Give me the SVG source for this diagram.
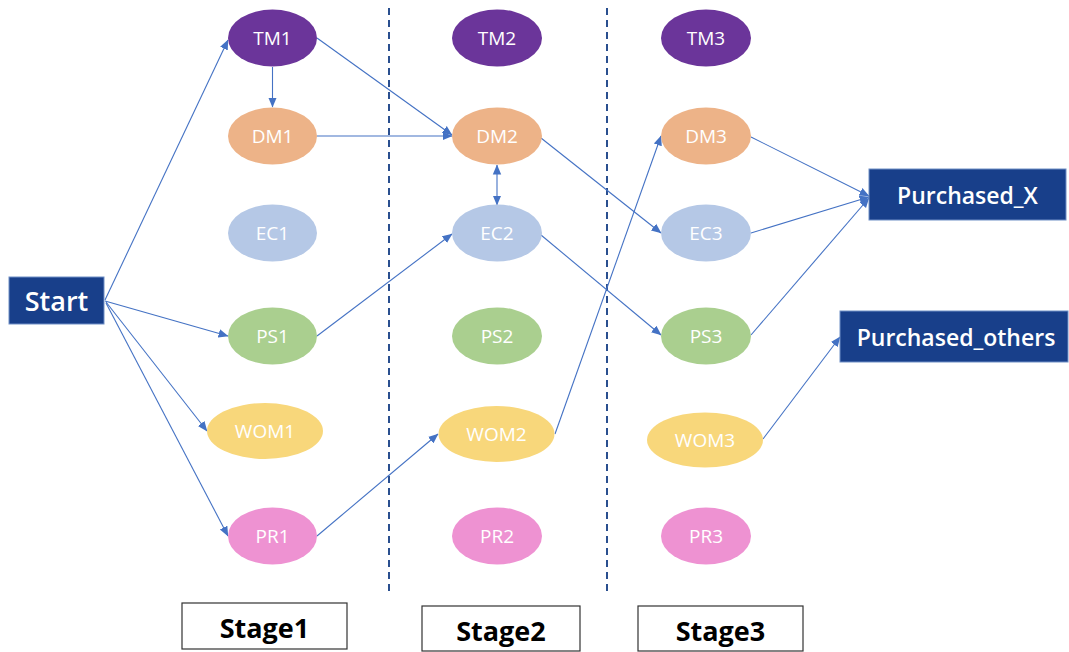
<svg xmlns="http://www.w3.org/2000/svg" width="1069" height="652" viewBox="0 0 1069 652">
  <style>
    .node text { font-family: "Open Sans", "Noto Sans", "Liberation Sans", sans-serif; fill: #ffffff; text-anchor: middle; dominant-baseline: central; }
    .ell text { font-size: 19px; font-weight: 500; }
    .tm ellipse { fill: #6B359A; }
    .dm ellipse { fill: #EDB388; }
    .ec ellipse { fill: #B5C8E6; }
    .ps ellipse { fill: #AACF8F; }
    .wom ellipse { fill: #F8D77B; }
    .pr ellipse { fill: #EE92D2; }
    .box rect { fill: #183F8A; stroke: #6F8FC6; stroke-width: 1; }
    .box text { font-size: 23px; font-weight: 600; }
    .stage rect { fill: #ffffff; stroke: #333333; stroke-width: 1.2; }
    .stage text { font-family: "Open Sans", "Noto Sans", "Liberation Sans", sans-serif; font-size: 27px; font-weight: 700; fill: #000000; text-anchor: middle; dominant-baseline: central; }
    .divider { stroke: #2A4F8F; stroke-width: 2; stroke-dasharray: 7 5; fill: none; }
    #connectors line { stroke: #4472C4; stroke-width: 1.1; fill: none; marker-end: url(#arrow); }
  </style>
  <defs>
    <marker id="arrow" viewBox="0 0 10 10" refX="9.5" refY="5" markerWidth="10" markerHeight="10" markerUnits="userSpaceOnUse" orient="auto-start-reverse">
      <path d="M0,0.8 L10,5 L0,9.2 Z" fill="#4472C4"/>
    </marker>
  </defs>

  <rect width="1069" height="652" fill="#ffffff"/>

  <!-- stage dividers -->
  <line class="divider" x1="389" y1="8" x2="389" y2="592"/>
  <line class="divider" x1="607" y1="8" x2="607" y2="592"/>

  <!-- connectors -->
  <g id="connectors">
    <line x1="105" y1="300" x2="228" y2="40"/>
    <line x1="105" y1="301" x2="228" y2="336"/>
    <line x1="106" y1="302" x2="207" y2="431"/>
    <line x1="106" y1="303" x2="228" y2="536"/>
    <line x1="272.5" y1="67" x2="272.5" y2="107"/>
    <line x1="317" y1="38" x2="452" y2="135"/>
    <line x1="317" y1="136" x2="452" y2="136"/>
    <line x1="497" y1="165" x2="497" y2="205" marker-start="url(#arrow)"/>
    <line x1="541" y1="138" x2="661" y2="233"/>
    <line x1="317" y1="336" x2="452" y2="234"/>
    <line x1="541" y1="235" x2="661" y2="335"/>
    <line x1="317" y1="536" x2="438" y2="434"/>
    <line x1="555" y1="434" x2="661" y2="136"/>
    <line x1="751" y1="137" x2="869" y2="196"/>
    <line x1="751" y1="233" x2="869" y2="197"/>
    <line x1="751" y1="335" x2="869" y2="198"/>
    <line x1="763" y1="439" x2="840" y2="337"/>
  </g>

  <!-- start / outcome boxes -->
  <g id="start" class="node box">
    <rect x="9" y="277" width="95" height="47"/>
    <text x="56.5" y="300.5" style="font-size:27px">Start</text>
  </g>
  <g id="purchased_x" class="node box">
    <rect x="869" y="169" width="197" height="51"/>
    <text x="967.5" y="195">Purchased_X</text>
  </g>
  <g id="purchased_others" class="node box">
    <rect x="840" y="311" width="228" height="51"/>
    <text x="956" y="337">Purchased_others</text>
  </g>

  <!-- stage 1 -->
  <g id="tm1" class="node ell tm"><ellipse cx="272.5" cy="38" rx="44.5" ry="28.5"/><text x="272.5" y="38">TM1</text></g>
  <g id="dm1" class="node ell dm"><ellipse cx="272.5" cy="136" rx="44.5" ry="28.5"/><text x="272.5" y="136">DM1</text></g>
  <g id="ec1" class="node ell ec"><ellipse cx="272.5" cy="233" rx="44.5" ry="28.5"/><text x="272.5" y="233">EC1</text></g>
  <g id="ps1" class="node ell ps"><ellipse cx="272.5" cy="336" rx="44.5" ry="28.5"/><text x="272.5" y="336">PS1</text></g>
  <g id="wom1" class="node ell wom"><ellipse cx="265" cy="431" rx="58" ry="28"/><text x="265" y="431">WOM1</text></g>
  <g id="pr1" class="node ell pr"><ellipse cx="272.5" cy="536" rx="44.5" ry="28.5"/><text x="272.5" y="536">PR1</text></g>

  <!-- stage 2 -->
  <g id="tm2" class="node ell tm"><ellipse cx="497" cy="38" rx="45" ry="28.5"/><text x="497" y="38">TM2</text></g>
  <g id="dm2" class="node ell dm"><ellipse cx="497" cy="136" rx="45" ry="28.5"/><text x="497" y="136">DM2</text></g>
  <g id="ec2" class="node ell ec"><ellipse cx="497" cy="233" rx="45" ry="28.5"/><text x="497" y="233">EC2</text></g>
  <g id="ps2" class="node ell ps"><ellipse cx="497" cy="336" rx="45" ry="28.5"/><text x="497" y="336">PS2</text></g>
  <g id="wom2" class="node ell wom"><ellipse cx="496.5" cy="434" rx="58" ry="28"/><text x="496.5" y="434">WOM2</text></g>
  <g id="pr2" class="node ell pr"><ellipse cx="497" cy="536" rx="45" ry="28.5"/><text x="497" y="536">PR2</text></g>

  <!-- stage 3 -->
  <g id="tm3" class="node ell tm"><ellipse cx="706" cy="38" rx="45" ry="28.5"/><text x="706" y="38">TM3</text></g>
  <g id="dm3" class="node ell dm"><ellipse cx="706" cy="136" rx="45" ry="28.5"/><text x="706" y="136">DM3</text></g>
  <g id="ec3" class="node ell ec"><ellipse cx="706" cy="233" rx="45" ry="28.5"/><text x="706" y="233">EC3</text></g>
  <g id="ps3" class="node ell ps"><ellipse cx="706" cy="336" rx="45" ry="28.5"/><text x="706" y="336">PS3</text></g>
  <g id="wom3" class="node ell wom"><ellipse cx="705" cy="440" rx="58" ry="27.5"/><text x="705" y="440">WOM3</text></g>
  <g id="pr3" class="node ell pr"><ellipse cx="706" cy="536" rx="45" ry="28.5"/><text x="706" y="536">PR3</text></g>

  <!-- stage labels -->
  <g id="stage1" class="stage"><rect x="182" y="603" width="165" height="46"/><text x="264.5" y="627">Stage1</text></g>
  <g id="stage2" class="stage"><rect x="422" y="606" width="158" height="45"/><text x="501" y="630">Stage2</text></g>
  <g id="stage3" class="stage"><rect x="638" y="606" width="165" height="45"/><text x="720.5" y="630">Stage3</text></g>
</svg>
